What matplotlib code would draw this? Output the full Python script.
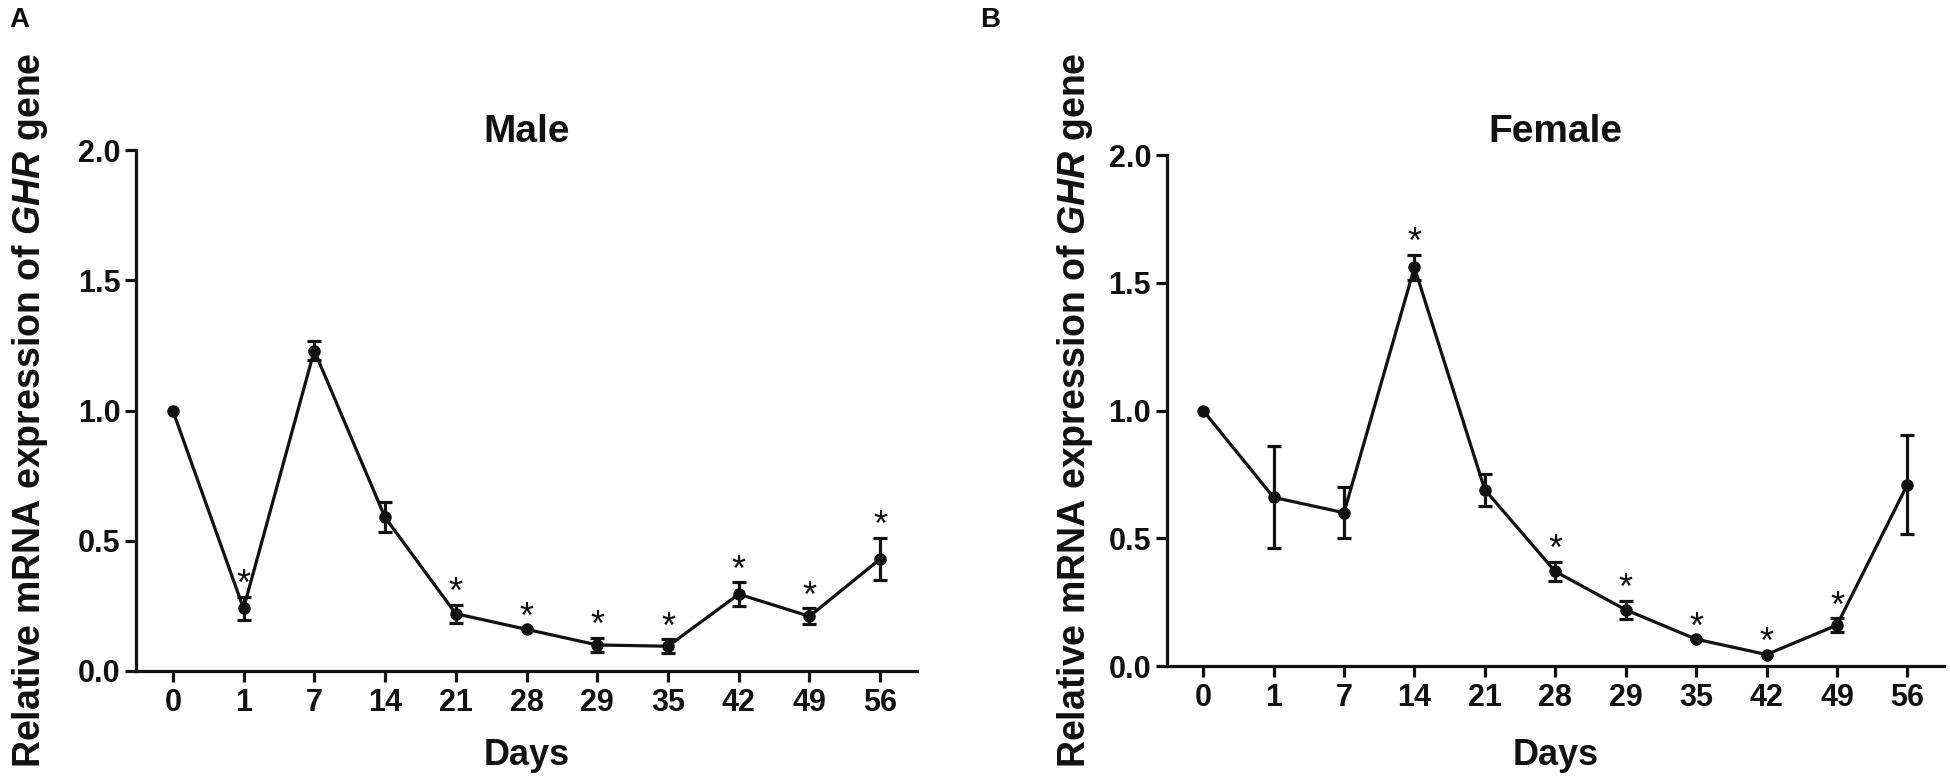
import numpy as np
import matplotlib.pyplot as plt

plt.rcParams['font.family'] = ['Liberation Sans', 'DejaVu Sans']
plt.rcParams['mathtext.fontset'] = 'custom'
plt.rcParams['mathtext.it'] = 'Liberation Sans:bold:italic'
plt.rcParams['mathtext.rm'] = 'Liberation Sans:bold'

days = ['0', '1', '7', '14', '21', '28', '29', '35', '42', '49', '56']

# relative expression, mean and error
male_mean = [1.00, 0.24, 1.23, 0.59, 0.22, 0.16, 0.10, 0.095, 0.295, 0.21, 0.43]
male_err = [0, 0.045, 0.037, 0.058, 0.035, 0, 0.027, 0.027, 0.045, 0.03, 0.082]
male_sig = [0, 1, 0, 0, 1, 1, 1, 1, 1, 1, 1]

female_mean = [1.00, 0.66, 0.60, 1.56, 0.69, 0.37, 0.22, 0.105, 0.045, 0.16, 0.71]
female_err = [0, 0.20, 0.10, 0.05, 0.062, 0.038, 0.036, 0, 0, 0.026, 0.195]
female_sig = [0, 0, 0, 1, 0, 1, 1, 1, 1, 1, 0]

W, H = 1950, 781
fig = plt.figure(figsize=(W / 100, H / 100), dpi=100)

panels = [
    # (left, right, top, bottom) in pixels
    ("Male", male_mean, male_err, male_sig, (136, 917, 150, 671), 30, "A", 19),
    ("Female", female_mean, female_err, female_sig, (1166.5, 1944, 155, 666), 1075, "B", 990),
]

lw = 2.3
for title, mean, err, sig, (l, r, t, b), ylab_x, letter, letter_x in panels:
    ax = fig.add_axes([l / W, 1 - b / H, (r - l) / W, (b - t) / H])
    x = np.arange(len(days))
    mean = np.array(mean)
    err = np.array(err)
    ax.plot(x, mean, color='#111111', lw=lw, marker='o', ms=8, zorder=3)
    m = err > 0
    ax.errorbar(x[m], mean[m], yerr=err[m], fmt='none', ecolor='#111111',
                elinewidth=lw, capsize=5, capthick=lw, zorder=3)
    for xi, yi, ei, s in zip(x, mean, err, sig):
        if s:
            ax.annotate('*', (xi, yi + ei), xytext=(0, 8), textcoords='offset points',
                        ha='center', va='center', fontsize=26, color='#111111')

    ax.set_xlim(-0.52, 10.52)
    ax.set_ylim(0, 2.0)
    ax.set_xticks(x)
    ax.set_xticklabels(days)
    ax.set_yticks([0, 0.5, 1.0, 1.5, 2.0])
    ax.set_yticklabels(['0.0', '0.5', '1.0', '1.5', '2.0'])
    for sp in ['top', 'right']:
        ax.spines[sp].set_visible(False)
    for sp in ['left', 'bottom']:
        ax.spines[sp].set_linewidth(lw)
        ax.spines[sp].set_color('#111111')
    ax.tick_params(direction='out', length=8, width=lw, color='#111111',
                   labelsize=22, labelcolor='#111111')
    ax.tick_params(axis='x', pad=4)
    ax.tick_params(axis='y', pad=3)
    for lab in ax.get_xticklabels() + ax.get_yticklabels():
        lab.set_fontweight('bold')
    ax.patch.set_alpha(0)

    cx = (l + r) / 2
    fig.text(cx / W, 1 - 141.5 / H, title, ha='center', va='baseline',
             fontsize=28, fontweight='bold', color='#111111')
    fig.text(cx / W, 1 - 765 / H, 'Days', ha='center', va='baseline',
             fontsize=26, fontweight='bold', color='#111111')
    fig.text(ylab_x / W, 1 - ((t + b) / 2) / H,
             r'Relative mRNA expression of $\mathit{GHR}$ gene',
             rotation=90, ha='center', va='center', fontsize=27,
             fontweight='bold', color='#111111')
    fig.text(letter_x / W, 1 - 20 / H, letter, ha='center', va='center',
             fontsize=20, fontweight='bold', color='#111111')

plt.savefig('out.png', dpi=100)
